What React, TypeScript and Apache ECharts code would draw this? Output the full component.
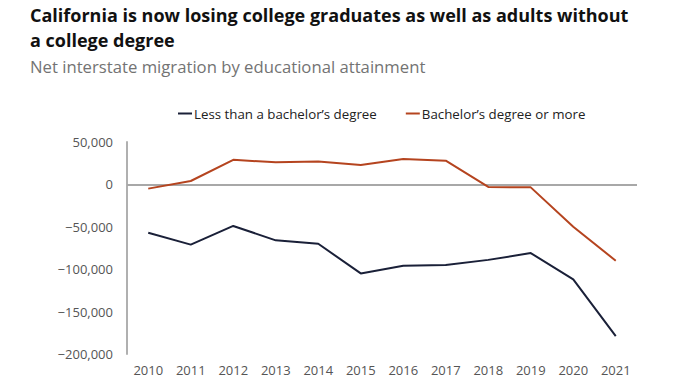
import React, { useEffect, useRef } from "react";
import * as echarts from "echarts";

const years = ["2010", "2011", "2012", "2013", "2014", "2015", "2016", "2017", "2018", "2019", "2020", "2021"];
const lessThanBachelors = [-57000, -71000, -49000, -66000, -70000, -105000, -96000, -95000, -89000, -81000, -112000, -179000];
const bachelorsOrMore = [-5000, 4000, 29000, 26000, 27000, 23000, 30000, 28000, -3000, -3500, -50000, -90000];

const FONT = "'Open Sans', Roboto, sans-serif";

export default function App() {
  const ref = useRef<HTMLDivElement>(null);
  useEffect(() => {
    if (!ref.current) return;
    const chart = echarts.init(ref.current, undefined, { renderer: "svg" });
    chart.setOption({
      animation: false,
      backgroundColor: "#ffffff",
      title: [
        {
          text: "California is now losing college graduates as well as adults without\na college degree",
          left: 25,
          top: -3,
          textStyle: { fontFamily: FONT, fontSize: 18, fontWeight: "bold", color: "#111", lineHeight: 25 },
        },
        {
          text: "Net interstate migration by educational attainment",
          left: 25,
          top: 53,
          textStyle: { fontFamily: FONT, fontSize: 16.7, fontWeight: "normal", color: "#737373" },
        },
      ],
      legend: {
        top: 102,
        left: 173,
        itemGap: 29,
        itemWidth: 14,
        itemHeight: 2,
        icon: "rect",
        textStyle: { fontFamily: FONT, fontSize: 13.3, color: "#222", padding: [0, 0, 0, -3] },
        data: ["Less than a bachelor\u2019s degree", "Bachelor\u2019s degree or more"],
      },
      grid: { left: 127, right: 52, top: 142, bottom: 30, containLabel: false },
      xAxis: {
        type: "category",
        data: years,
        boundaryGap: true,
        axisLine: { show: false, onZero: false },
        axisTick: { show: false },
        axisLabel: { fontFamily: FONT, fontSize: 13, color: "#555", margin: 9 },
      },
      yAxis: {
        type: "value",
        min: -200000,
        max: 50000,
        interval: 50000,
        axisLine: { show: true, lineStyle: { color: "#b0b0b0", width: 2 } },
        axisTick: { show: false },
        splitLine: { show: false },
        axisLabel: {
          fontFamily: FONT,
          fontSize: 13,
          color: "#555",
          margin: 14,
          formatter: (v: number) => {
            const s = Math.abs(v).toLocaleString("en-US");
            return v < 0 ? "\u2212" + s : s;
          },
        },
      },
      series: [
        {
          name: "Less than a bachelor\u2019s degree",
          type: "line",
          data: lessThanBachelors,
          symbol: "none",
          lineStyle: { color: "#1a2038", width: 2 },
          itemStyle: { color: "#1a2038" },
          z: 3,
        },
        {
          name: "Bachelor\u2019s degree or more",
          type: "line",
          data: bachelorsOrMore,
          symbol: "none",
          lineStyle: { color: "#b5441f", width: 2 },
          itemStyle: { color: "#b5441f" },
          z: 3,
          markLine: {
            silent: true,
            symbol: "none",
            label: { show: false },
            lineStyle: { color: "#a8a8a8", width: 2, type: "solid" },
            data: [{ yAxis: 0 }],
            z: 1,
          },
        },
      ],
    });
    return () => chart.dispose();
  }, []);
  return <div ref={ref} style={{ width: 689, height: 384, margin: -8 }} />;
}
